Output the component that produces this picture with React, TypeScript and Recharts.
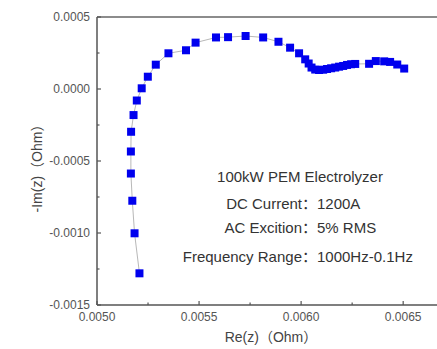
import React from 'react';
import { ScatterChart, Scatter, XAxis, YAxis, ZAxis, ReferenceLine } from 'recharts';

const reZ = [
  0.005208, 0.005184, 0.005173, 0.005166, 0.005166, 0.005167, 0.005179, 0.005195, 0.005219, 0.005249,
  0.005288, 0.00535, 0.005436, 0.005483, 0.005583, 0.005642, 0.005728, 0.005814, 0.005889, 0.005946,
  0.00599, 0.00602, 0.006037, 0.006051, 0.006069, 0.006088, 0.006108, 0.006127, 0.006147, 0.006167,
  0.006186, 0.006206, 0.006225, 0.006245, 0.006265, 0.006333, 0.006366, 0.006407, 0.006436, 0.006471,
  0.006505,
];
const negImZ = [
  -0.00128, -0.001002, -0.000776, -0.000587, -0.000434, -0.000297, -0.000181, -0.0000799, 0.0000049, 0.0000854,
  0.000169, 0.000248, 0.000269, 0.000322, 0.000358, 0.00036, 0.000368, 0.000358, 0.000328, 0.000287,
  0.000248, 0.000206, 0.000177, 0.000149, 0.000135, 0.000132, 0.000134, 0.000139, 0.000144, 0.000149,
  0.000155, 0.00016, 0.000167, 0.000172, 0.000174, 0.000175, 0.000194, 0.000192, 0.000188, 0.00017,
  0.000142,
];

const xMajorTicks = [0.005, 0.0055, 0.006, 0.0065];
const xMinorTicks = [0.00525, 0.00575, 0.00625];
const yMajorTicks = [-0.0015, -0.001, -0.0005, 0, 0.0005];
const yMinorTicks = [-0.00125, -0.00075, -0.00025, 0.00025];

const xAxisTitle = 'Re(z)（Ohm）';
const yAxisTitle = '-Im(z)（Ohm）';
const titleLine = '100kW PEM Electrolyzer';
const infoLabels = ['DC Current：', 'AC Excition：', 'Frequency Range：'];
const infoValues = ['1200A', '5% RMS', '1000Hz-0.1Hz'];

const data = reZ.map((x, i) => ({ x, y: negImZ[i] }));
const xTicks = [...xMajorTicks, ...xMinorTicks].sort((a, b) => a - b);
const yTicks = [...yMajorTicks, ...yMinorTicks].sort((a, b) => a - b);

const FONT = '"Liberation Sans", Arial, "Noto Sans CJK SC", sans-serif';
const AXIS = '#555';

const isIn = (arr: number[], v: number) => arr.some((t) => Math.abs(t - v) < 1e-9);

const XTick = (props: any) => {
  const { x, y, payload } = props;
  const v = payload.value;
  const major = isIn(xMajorTicks, v);
  return (
    <g>
      <line x1={x} x2={x} y1={y} y2={y - (major ? 4 : 2.5)} stroke={AXIS} strokeWidth={1.2} />
      {major && (
        <text x={x} y={y + 16} textAnchor="middle" fill="#555" fontSize={12} fontFamily={FONT}>
          {v.toFixed(4)}
        </text>
      )}
    </g>
  );
};

const YTick = (props: any) => {
  const { x, y, payload } = props;
  const v = payload.value;
  const major = isIn(yMajorTicks, v);
  return (
    <g>
      <line x1={x} x2={x + (major ? 4 : 2.5)} y1={y} y2={y} stroke={AXIS} strokeWidth={1.2} />
      {major && (
        <text x={x - 7} y={y + 4.3} textAnchor="end" fill="#555" fontSize={12} fontFamily={FONT}>
          {v.toFixed(4)}
        </text>
      )}
    </g>
  );
};

export default function App() {
  return (
    <div style={{ position: 'absolute', left: 0, top: 0, width: 437, height: 349, overflow: 'hidden', background: '#fff', fontFamily: FONT }}>
      <ScatterChart width={460} height={349} margin={{ top: 17, right: 16, bottom: 0, left: 8 }} style={{ overflow: 'visible' }}>
        <XAxis
          type="number"
          dataKey="x"
          domain={[0.005, 0.0067]}
          ticks={xTicks}
          interval={0}
          tickSize={0}
          tickMargin={0}
          tickLine={false}
          tick={<XTick />}
          height={44}
          axisLine={{ stroke: AXIS, strokeWidth: 1.5 }}
        />
        <YAxis
          type="number"
          dataKey="y"
          domain={[-0.0015, 0.0005]}
          ticks={yTicks}
          interval={0}
          tickSize={0}
          tickMargin={0}
          tickLine={false}
          tick={<YTick />}
          width={89}
          axisLine={{ stroke: AXIS, strokeWidth: 1.5 }}
        />
        <ZAxis range={[40, 40]} />
        <ReferenceLine y={0.0005} stroke="#666" strokeWidth={1.5} />
        <ReferenceLine x={0.0067} stroke="#666" strokeWidth={1.5} />
        <Scatter
          data={data}
          fill="#0000ee"
          shape="square"
          line={{ stroke: '#b8b8b8', strokeWidth: 1 }}
          lineType="joint"
          isAnimationActive={false}
        />
        <g fontFamily={FONT}>
          <text x={271} y={342} textAnchor="middle" fill="#444" fontSize={14}>
            {xAxisTitle}
          </text>
          <text x={42} y={165} transform="rotate(-90 42 165)" textAnchor="middle" fill="#444" fontSize={14}>
            {yAxisTitle}
          </text>
          <text x={300} y={182} textAnchor="middle" fill="#333" fontSize={15}>
            {titleLine}
          </text>
          {infoLabels.map((l, i) => (
            <g key={l}>
              <text x={317} y={[208.5, 232.5, 261.5][i]} textAnchor="end" fill="#333" fontSize={15}>
                {l}
              </text>
              <text x={317} y={[208.5, 232.5, 261.5][i]} textAnchor="start" fill="#333" fontSize={15}>
                {infoValues[i]}
              </text>
            </g>
          ))}
        </g>
      </ScatterChart>
    </div>
  );
}
